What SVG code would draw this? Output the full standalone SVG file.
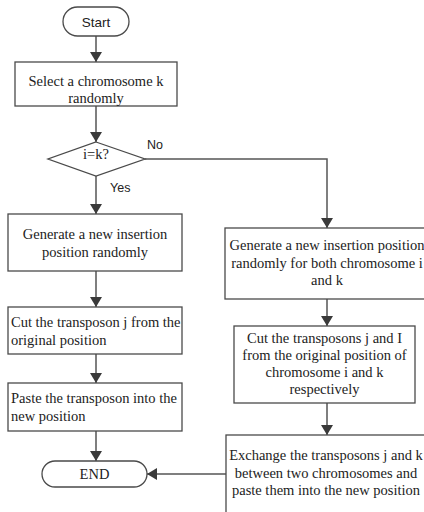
<svg xmlns="http://www.w3.org/2000/svg" width="424" height="512" viewBox="0 0 424 512">
<defs>
<marker id="arr" markerUnits="userSpaceOnUse" markerWidth="11" markerHeight="12" refX="10" refY="6" orient="auto">
<path d="M0,0 L10,6 L0,12 z" fill="#3a3a3a"/>
</marker>
<style>
.box{fill:#fff;stroke:#4a4a4a;stroke-width:1.3}
.ln{fill:none;stroke:#555;stroke-width:1.5}
.t{font-family:"Liberation Serif","Times New Roman",serif;font-size:14.5px;fill:#222}
.s{font-family:"Liberation Sans",Arial,sans-serif;fill:#222}
.c{text-anchor:middle}
</style>
</defs>
<rect width="424" height="512" fill="#fff"/>
<g id="connectors">
<line class="ln" x1="96" y1="36" x2="96" y2="62" marker-end="url(#arr)"/>
<line class="ln" x1="96" y1="106" x2="96" y2="142" marker-end="url(#arr)"/>
<line class="ln" x1="96" y1="176" x2="96" y2="214" marker-end="url(#arr)"/>
<line class="ln" x1="96" y1="271" x2="96" y2="307" marker-end="url(#arr)"/>
<line class="ln" x1="96" y1="354" x2="96" y2="383" marker-end="url(#arr)"/>
<line class="ln" x1="96" y1="431" x2="96" y2="461" marker-end="url(#arr)"/>
<polyline class="ln" points="145,159 327,159 327,228" marker-end="url(#arr)"/>
<line class="ln" x1="327" y1="299" x2="327" y2="326" marker-end="url(#arr)"/>
<line class="ln" x1="327" y1="403" x2="327" y2="435" marker-end="url(#arr)"/>
<line class="ln" x1="226" y1="474" x2="147" y2="474" marker-end="url(#arr)"/>
<text class="s" x="147" y="149" font-size="12.5">No</text>
<text class="s" x="110" y="192" font-size="12.5">Yes</text>
</g>
<g id="start">
<rect class="box" x="63" y="7" width="66" height="29" rx="14.5"/>
<text class="s c" x="96" y="26.5" font-size="13.5">Start</text>
</g>
<g id="select">
<rect class="box" x="15" y="62" width="162" height="44"/>
<text class="t c" x="96" y="86">Select a chromosome k</text>
<text class="t c" x="96" y="102.5">randomly</text>
</g>
<g id="decision">
<polygon class="box" points="96,142 145,159 96,176 48,159"/>
<text class="t c" x="96" y="158.5">i=k?</text>
</g>
<g id="gen-left">
<rect class="box" x="8" y="214" width="174" height="57"/>
<text class="t c" x="95" y="239">Generate a new insertion</text>
<text class="t c" x="95" y="256.5">position randomly</text>
</g>
<g id="cut-left">
<rect class="box" x="8" y="307" width="174" height="47"/>
<text class="t" x="11" y="327">Cut the transposon j from the</text>
<text class="t" x="11" y="344.5">original position</text>
</g>
<g id="paste-left">
<rect class="box" x="8" y="383" width="174" height="48"/>
<text class="t" x="11" y="403">Paste the transposon into the</text>
<text class="t" x="11" y="420.5">new position</text>
</g>
<g id="end">
<rect class="box" x="42" y="461" width="105" height="26" rx="13"/>
<text class="t c" x="94.5" y="478.5">END</text>
</g>
<g id="gen-right">
<rect class="box" x="225" y="228" width="205" height="71"/>
<text class="t c" x="327" y="250">Generate a new insertion position</text>
<text class="t c" x="327" y="267.5">randomly for both chromosome i</text>
<text class="t c" x="327" y="285">and k</text>
</g>
<g id="cut-right">
<rect class="box" x="234" y="326" width="181" height="77"/>
<text class="t c" x="324.5" y="343">Cut the transposons j and I</text>
<text class="t c" x="324.5" y="360">from the original position of</text>
<text class="t c" x="324.5" y="377">chromosome i and k</text>
<text class="t c" x="324.5" y="394">respectively</text>
</g>
<g id="exchange">
<rect class="box" x="226" y="435" width="204" height="90"/>
<text class="t c" x="326" y="460">Exchange the transposons j and k</text>
<text class="t c" x="326" y="477.5">between two chromosomes and</text>
<text class="t c" x="326" y="495">paste them into the new position</text>
</g>
</svg>
